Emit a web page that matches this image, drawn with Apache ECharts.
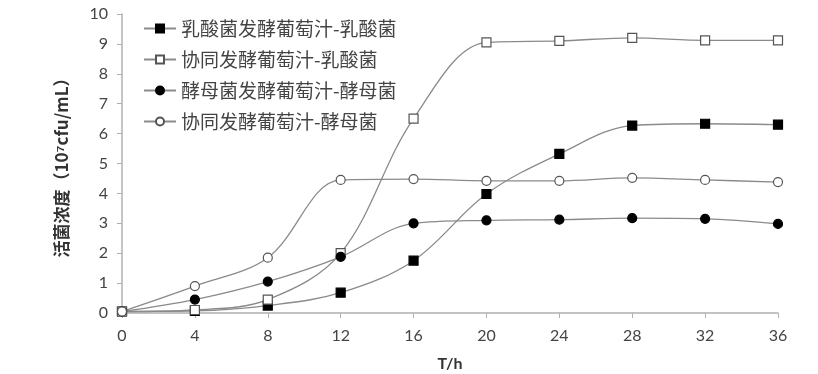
<!DOCTYPE html>
<html><head><meta charset="utf-8">
<script src="https://cdn.jsdelivr.net/npm/echarts@6/dist/echarts.min.js"></script>
<style>html,body{margin:0;padding:0;background:#fff}#c{width:818px;height:374px}</style>
</head><body><div id="c"></div>
<script>
const hours = [0, 4, 8, 12, 16, 20, 24, 28, 32, 36];
const seriesNames = ['乳酸菌发酵葡萄汁-乳酸菌', '协同发酵葡萄汁-乳酸菌', '酵母菌发酵葡萄汁-酵母菌', '协同发酵葡萄汁-酵母菌'];
const lacticMono = [0.05, 0.07, 0.25, 0.68, 1.75, 3.98, 5.32, 6.27, 6.33, 6.3];
const lacticCo = [0.05, 0.1, 0.45, 2.0, 6.5, 9.05, 9.1, 9.2, 9.12, 9.12];
const yeastMono = [0.05, 0.45, 1.05, 1.88, 3.0, 3.1, 3.12, 3.17, 3.15, 2.98];
const yeastCo = [0.05, 0.9, 1.85, 4.45, 4.48, 4.42, 4.42, 4.52, 4.45, 4.38];
const yTicks = [0, 1, 2, 3, 4, 5, 6, 7, 8, 9, 10];

const chart = echarts.init(document.getElementById('c'));
const font = 'Lato, Liberation Sans, DejaVu Sans, sans-serif';
function mk(name, data, symbol, filled) {
  return {
    name, type: 'line', smooth: 0.35,
    data: hours.map((h, i) => [h, data[i]]),
    symbol, symbolSize: 9,
    lineStyle: { color: '#8a8a8a', width: 1.3 },
    itemStyle: { color: filled ? '#000' : '#fff', borderColor: filled ? '#000' : '#555', borderWidth: 1.2 },
    emphasis: { disabled: true }
  };
}
chart.setOption({
  animation: false,
  backgroundColor: '#fff',
  grid: { left: 122, right: 40, top: 14, bottom: 61, outerBoundsMode: 'none', containLabel: false },
  legend: {
    orient: 'vertical', left: 138, top: 14, itemGap: 12, itemWidth: 32, itemHeight: 10,
    textStyle: { fontSize: 19, color: '#444', fontFamily: 'Noto Sans CJK SC, sans-serif' },
    data: seriesNames
  },
  xAxis: {
    type: 'value', min: 0, max: 36, interval: 4,
    name: 'T/h', nameLocation: 'middle', nameGap: 43,
    nameTextStyle: { fontSize: 16, fontWeight: 'bold', color: '#333', fontFamily: font },
    axisLine: { lineStyle: { color: '#b0b0b0', width: 1.5 } },
    axisTick: { show: true, length: 5, lineStyle: { color: '#b0b0b0' } },
    axisLabel: { fontSize: 16, color: '#444', margin: 15, fontFamily: font },
    splitLine: { show: false }
  },
  yAxis: {
    type: 'value', min: 0, max: 10, interval: 1,
    name: '活菌浓度（10⁷cfu/mL）', nameLocation: 'middle', nameGap: 52, nameRotate: 90,
    nameTextStyle: { fontSize: 17, fontWeight: 'bold', color: '#333', fontFamily: 'Noto Sans CJK SC, sans-serif' },
    axisLine: { show: true, lineStyle: { color: '#b0b0b0', width: 1.5 } },
    axisTick: { show: true, length: 5, lineStyle: { color: '#b0b0b0' } },
    axisLabel: { fontSize: 16, color: '#444', margin: 14, fontFamily: font, formatter: v => yTicks.includes(v) ? String(v) : '' },
    splitLine: { show: false }
  },
  series: [
    mk(seriesNames[0], lacticMono, 'rect', true),
    mk(seriesNames[1], lacticCo, 'rect', false),
    mk(seriesNames[2], yeastMono, 'circle', true),
    mk(seriesNames[3], yeastCo, 'circle', false)
  ]
});
</script></body></html>
